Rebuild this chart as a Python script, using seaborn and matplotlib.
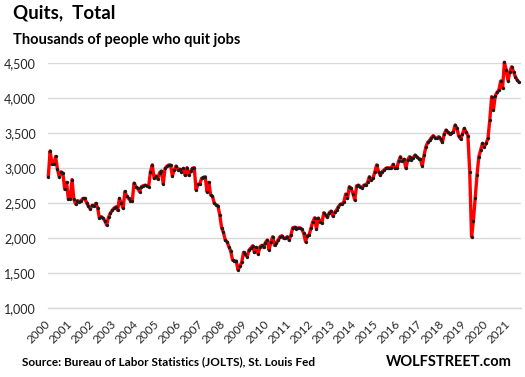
import matplotlib

matplotlib.use("Agg")
import matplotlib.pyplot as plt
import matplotlib.ticker as mticker
import pandas as pd
import seaborn as sns


OUTPUT_FILE = "out.png"

# monthly quits (thousands), Dec 2000 through mid 2022
QUITS_2000 = [2880]
QUITS_2001 = [3250, 3060, 3060, 3170, 2990, 2880, 2950, 2930, 2700, 2800, 2560, 2560]
QUITS_2002 = [2840, 2560, 2490, 2540, 2520, 2540, 2570, 2570, 2510, 2460, 2420, 2470]
QUITS_2003 = [2460, 2500, 2440, 2290, 2310, 2290, 2250, 2190, 2300, 2360, 2400, 2430]
QUITS_2004 = [2450, 2400, 2570, 2500, 2430, 2670, 2600, 2570, 2540, 2530, 2790, 2740]
QUITS_2005 = [2714, 2667, 2738, 2752, 2760, 2752, 2740, 2950, 3050, 2857, 2890, 2848]
QUITS_2006 = [2940, 2962, 2776, 3000, 3030, 3048, 3048, 2890, 2980, 3033, 2980, 2990]
QUITS_2007 = [2950, 3000, 2900, 3010, 2900, 2960, 3000, 3010, 2690, 2771, 2771, 2857]
QUITS_2008 = [2870, 2880, 2667, 2800, 2619, 2600, 2500, 2480, 2462, 2333, 2152, 2086]
QUITS_2009 = [1976, 1952, 1880, 1819, 1690, 1680, 1676, 1548, 1600, 1657, 1800, 1770]
QUITS_2010 = [1738, 1833, 1860, 1895, 1800, 1870, 1776, 1880, 1900, 1870, 1940, 1976]
QUITS_2011 = [1833, 1950, 2024, 1900, 1930, 1976, 2024, 2038, 2000, 2000, 2024, 1976]
QUITS_2012 = [2048, 2152, 2160, 2140, 2150, 2150, 2130, 2071, 1952, 2040, 2050, 2150]
QUITS_2013 = [2238, 2295, 2133, 2290, 2240, 2220, 2367, 2330, 2300, 2367, 2390, 2319]
QUITS_2014 = [2370, 2405, 2452, 2486, 2495, 2520, 2633, 2570, 2738, 2714, 2640, 2548]
QUITS_2015 = [2752, 2760, 2740, 2720, 2760, 2762, 2800, 2881, 2830, 2860, 2950, 3050]
QUITS_2016 = [2952, 2900, 2952, 2976, 3000, 3010, 3000, 3010, 3057, 3000, 3000, 3100]
QUITS_2017 = [3167, 3100, 3130, 3000, 3120, 3167, 3120, 3150, 3190, 3167, 3140, 3130]
QUITS_2018 = [3033, 3190, 3310, 3371, 3400, 3438, 3467, 3440, 3429, 3452, 3419, 3371]
QUITS_2019 = [3486, 3548, 3514, 3490, 3500, 3520, 3619, 3571, 3460, 3420, 3486, 3571]
QUITS_2020 = [3520, 3467, 2952, 2024, 2248, 2571, 2905, 3167, 3262, 3357, 3310, 3357]
QUITS_2021 = [3429, 3690, 4024, 3833, 4038, 4086, 4119, 4248, 4143, 4514, 4404, 4252]
QUITS_2022 = [4381, 4452, 4381, 4310, 4262, 4229]

YEAR_LABELS = [str(year) for year in range(2000, 2022)]
Y_TICKS = [1000, 1500, 2000, 2500, 3000, 3500, 4000, 4500]

quits = (
    QUITS_2000 + QUITS_2001 + QUITS_2002 + QUITS_2003 + QUITS_2004
    + QUITS_2005 + QUITS_2006 + QUITS_2007 + QUITS_2008 + QUITS_2009
    + QUITS_2010 + QUITS_2011 + QUITS_2012 + QUITS_2013 + QUITS_2014
    + QUITS_2015 + QUITS_2016 + QUITS_2017 + QUITS_2018 + QUITS_2019
    + QUITS_2020 + QUITS_2021 + QUITS_2022
)
df = pd.DataFrame({"Month": range(len(quits)), "Quits": quits})

sns.set_theme(style="white")
plt.rcParams["font.family"] = ["Lato", "DejaVu Sans"]

fig = plt.figure(figsize=(5.25, 3.77), dpi=100)
ax = fig.add_axes([0.092, 0.182, 0.9, 0.65])

sns.lineplot(
    data=df,
    x="Month",
    y="Quits",
    ax=ax,
    color="#ff0000",
    linewidth=2.4,
    marker="o",
    markersize=2.4,
    markeredgewidth=0,
    markerfacecolor="#1a1a1a",
    clip_on=False,
    zorder=3,
)

ax.set_xlim(0, len(quits))
ax.set_ylim(1000, 4500)
ax.set_yticks(Y_TICKS)
ax.yaxis.set_major_formatter(mticker.StrMethodFormatter("{x:,.0f}"))
ax.set_xticks(range(0, 12 * len(YEAR_LABELS), 12))
ax.set_xticklabels(YEAR_LABELS, rotation=45, ha="right", va="center",
                   rotation_mode="anchor")
ax.grid(axis="y", color="#d9d9d9", linewidth=1.0)
ax.set_axisbelow(True)
ax.set_xlabel("")
ax.set_ylabel("")

for side in ["top", "right", "left"]:
    ax.spines[side].set_visible(False)
ax.spines["bottom"].set_color("#d9d9d9")
ax.spines["bottom"].set_linewidth(1.0)

ax.tick_params(axis="y", length=0, labelsize=9, labelcolor="#262626", pad=9)
ax.tick_params(axis="x", length=4, width=1.0, color="#d9d9d9",
               direction="out", labelsize=8.5, labelcolor="#262626", pad=6)

fig.text(0.025, 0.965, "Quits,  Total", fontsize=13.5, fontweight="bold",
         ha="left", va="center", color="black")
fig.text(0.025, 0.895, "Thousands of people who quit jobs", fontsize=10.5,
         fontweight="bold", ha="left", va="center", color="black")
fig.text(0.042, 0.04, "Source: Bureau of Labor Statistics (JOLTS), St. Louis Fed",
         fontsize=8.5, fontweight="bold", ha="left", va="center", color="black")
fig.text(0.975, 0.04, "WOLFSTREET.com", fontsize=10.5, fontweight="bold",
         ha="right", va="center", color="black")

fig.savefig(OUTPUT_FILE, dpi=100)
plt.close(fig)
